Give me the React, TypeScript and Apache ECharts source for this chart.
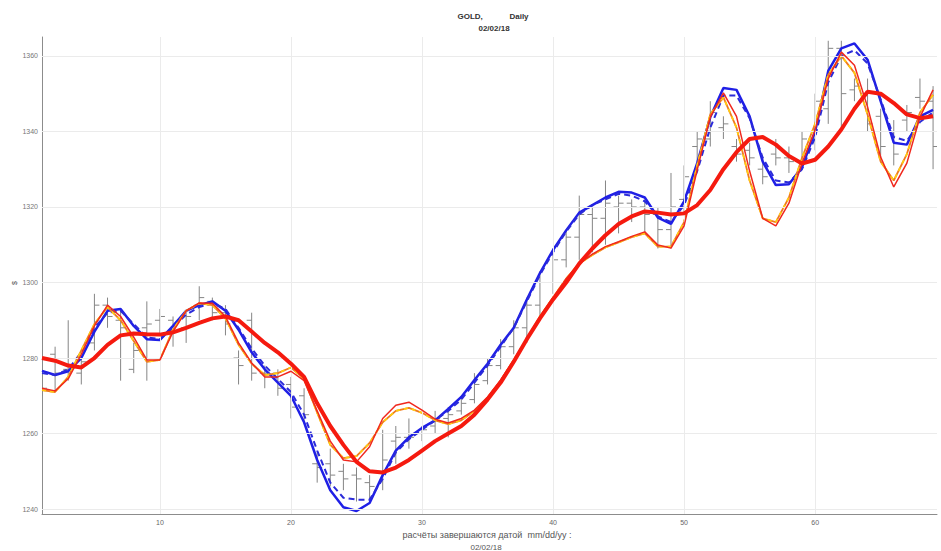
import React, { useEffect, useRef } from "react";
import * as echarts from "echarts";

// ---- data ----
const days: number[] = Array.from({ length: 69 }, (_, i) => i + 1);

// OHLC bars: open, high, low, close
const opens = [1276,1281,1277,1276,1284,1294,1290,1277,1288,1290,1290,1288,1294,1295,1292,1280,1290,1276,1276,1273,1270,1252,1252,1250,1249,1247,1260,1258,1259,1260,1262,1264,1266,1269,1274,1278,1283,1288,1294,1300,1306,1312,1318,1317,1320,1321,1320,1318,1314,1322,1336,1338,1341,1336,1335,1330,1334,1333,1332,1338,1346,1362,1351,1350,1344,1340,1343,1349,1348];
const highs = [1282,1283,1290,1280,1297,1296,1293,1284,1295,1293,1291,1292,1299,1296,1294,1282,1292,1278,1277,1275,1272,1255,1256,1252,1251,1249,1261,1262,1264,1262,1266,1267,1270,1276,1280,1285,1290,1296,1303,1309,1314,1323,1320,1327,1323,1322,1322,1320,1329,1331,1340,1348,1344,1338,1337,1333,1338,1336,1340,1350,1364,1364,1354,1354,1346,1343,1347,1354,1352];
const lows = [1270,1271,1274,1273,1282,1288,1274,1276,1274,1286,1283,1284,1290,1290,1286,1273,1274,1272,1270,1264,1263,1247,1246,1245,1242,1242,1245,1252,1256,1258,1260,1259,1265,1268,1273,1277,1281,1284,1290,1297,1304,1306,1308,1310,1313,1316,1313,1309,1309,1318,1332,1336,1338,1332,1331,1326,1331,1329,1330,1335,1342,1341,1348,1340,1333,1331,1340,1346,1330];
const closes = [1272,1276,1277,1279,1294,1291,1288,1282,1289,1291,1287,1291,1296,1292,1289,1278,1276,1276,1272,1267,1265,1251,1249,1248,1248,1246,1253,1259,1259,1261,1264,1265,1268,1273,1278,1283,1288,1294,1300,1306,1312,1318,1317,1321,1321,1320,1318,1314,1320,1328,1338,1345,1342,1334,1333,1328,1333,1332,1338,1348,1362,1350,1352,1342,1336,1334,1345,1348,1336];

// fast lines
const blueSolid = [1276.6,1275.5,1276.5,1280,1287,1292.5,1293,1288.5,1285,1284.8,1288.5,1292.5,1294,1295,1292.5,1287.5,1281.5,1277,1273.5,1270,1263,1253,1245,1240.5,1239.5,1241.6,1249,1255.5,1259,1261.5,1263.5,1266.5,1269.7,1274.2,1278.5,1283.5,1288,1295.5,1302.5,1308.6,1313.8,1318.5,1320.5,1322.5,1324,1323.8,1322.5,1317.2,1315.5,1321.5,1331.6,1343.8,1351.5,1351,1344,1332,1325.8,1326,1330.5,1340,1356,1362,1363.3,1359,1348,1337,1336.5,1344,1345.7];
const blueDashed = [1276,1275.5,1277,1281.5,1288,1292,1292.5,1289,1285.5,1285,1288,1291.5,1293.5,1294.5,1293,1288,1282.5,1278,1274.5,1271,1265,1255.5,1247,1243,1242.5,1242.5,1248,1255,1258.5,1261,1263.5,1266,1269,1273.5,1278,1283,1288,1295,1302,1308,1313.5,1318,1320.5,1322,1323.5,1323,1321.5,1317.5,1316,1320.5,1329.5,1341,1349.5,1349.5,1343.5,1333,1327,1326.5,1330,1338.5,1353,1360,1361.5,1358,1348.5,1338.5,1337.5,1342.5,1345];
const orangeLine = [1271.5,1271,1275,1282,1289,1293.5,1290,1284.5,1279,1279.5,1287.5,1292.5,1294.5,1294,1290.5,1283.5,1278.5,1275.5,1276,1277.5,1274.5,1265.5,1257,1253.5,1254,1257.5,1263,1266,1266.8,1265.5,1263.5,1262.5,1263.5,1266,1269.5,1274,1279.5,1285,1291,1296,1301,1305,1307.3,1309.3,1310.6,1312,1313,1309.5,1309.5,1316,1331,1344.5,1349,1341,1327,1317,1316,1322.5,1333,1342,1355,1360,1355.5,1344.5,1332,1327,1334,1345,1349.7];
const redThin = [1272,1271.3,1274.5,1281,1288.5,1294,1291,1285.5,1279.5,1279.5,1287,1292.5,1294.6,1294.5,1291,1284,1278.7,1275,1275,1276.5,1274,1266,1258,1253,1252.5,1256.5,1264,1267.5,1268.3,1266.2,1263.8,1262.8,1264,1266.2,1269.7,1274.2,1279.5,1285,1290.9,1296,1301,1305,1307.5,1309.5,1310.8,1312.2,1313.4,1309.9,1309.1,1315,1329.8,1343.8,1350.2,1344,1329.5,1317,1315,1321,1331.6,1340.4,1354,1361,1357.5,1346.5,1333.2,1325.3,1331.6,1343.8,1351];
// slow line
const redThick = [1280,1279.3,1278,1277.5,1280,1283.5,1286,1286.5,1286.3,1286.2,1286.8,1288,1289.3,1290.5,1291,1290,1287,1284,1281.5,1278.5,1275,1268,1262,1257,1252.5,1250,1249.7,1251,1253,1255.5,1258,1260,1262,1265,1269,1273.5,1279,1285,1290.5,1295.5,1300,1305,1309,1312.5,1315.5,1317.5,1318.8,1318.5,1318,1318.3,1320.5,1324.5,1330,1334.5,1338,1338.5,1336.5,1333.5,1331.5,1332.5,1336,1340.5,1346,1350.5,1350,1347.5,1344.5,1343.5,1344];

const xTicks = [10, 20, 30, 40, 50, 60];
const yTicks = [1240, 1260, 1280, 1300, 1320, 1340, 1360];

const titleLine1 = "GOLD,            Daily";
const titleLine2 = "02/02/18";
const xName1 = "расчёты завершаются датой  mm/dd/yy :";
const xName2 = "02/02/18";
const yName = "$";

const pair = (arr: number[]) => arr.map((v, i) => [days[i], v]);

export default function App() {
  const ref = useRef<HTMLDivElement>(null);
  useEffect(() => {
    const chart = echarts.init(ref.current!, null, { renderer: "svg" });
    const font = "Liberation Sans, Arial, sans-serif";
    const ohlc = days.map((d, i) => [d, opens[i], highs[i], lows[i], closes[i]]);
    const lineBase = {
      type: "line",
      showSymbol: false,
      symbol: "none",
      silent: true,
      animation: false,
    };
    chart.setOption({
      animation: false,
      backgroundColor: "#ffffff",
      grid: { left: 42, right: 4, top: 37, bottom: 37, containLabel: false },
      xAxis: {
        type: "value",
        min: 1,
        max: 69.3,
        axisLine: { show: true, onZero: false, lineStyle: { color: "#8c8c8c", width: 1 } },
        axisTick: { show: true, inside: true, length: 5, customValues: xTicks, lineStyle: { color: "#8c8c8c" } },
        axisLabel: { customValues: xTicks, fontSize: 7, color: "#666", fontFamily: font, margin: 5, formatter: (v: number) => String(v) },
        splitLine: { show: false },
      },
      yAxis: {
        type: "value",
        min: 1238.7,
        max: 1365,
        axisLine: { show: true, onZero: false, lineStyle: { color: "#8c8c8c", width: 1 } },
        axisTick: { show: true, inside: true, length: 5, customValues: yTicks, lineStyle: { color: "#8c8c8c" } },
        axisLabel: { customValues: yTicks, fontSize: 7, color: "#777", fontFamily: font, margin: 4, formatter: (v: number) => String(v) },
        splitLine: { show: false },
      },
      graphic: [
        { type: "text", x: 493, y: 12, style: { text: titleLine1, fontSize: 8, fontWeight: "bold", fill: "#333", fontFamily: font, align: "center" } },
        { type: "text", x: 494, y: 24, style: { text: titleLine2, fontSize: 8, fontWeight: "bold", fill: "#333", fontFamily: font, align: "center" } },
        { type: "text", x: 14, y: 283, rotation: Math.PI / 2, style: { text: yName, fontSize: 7, fill: "#555", fontFamily: font, align: "center", verticalAlign: "middle" } },
        { type: "text", x: 487, y: 530, style: { text: xName1, fontSize: 9, fill: "#555", fontFamily: font, align: "center" } },
        { type: "text", x: 486, y: 543, style: { text: xName2, fontSize: 8, fill: "#555", fontFamily: font, align: "center" } },
      ],
      series: [
        {
          type: "line",
          data: [],
          silent: true,
          markLine: {
            silent: true,
            symbol: "none",
            label: { show: false },
            lineStyle: { color: "#ebebeb", type: "solid", width: 1 },
            data: [
              ...xTicks.map((v) => ({ xAxis: v })),
              ...yTicks.map((v) => ({ yAxis: v })),
            ],
          },
        },
        {
          type: "custom",
          silent: true,
          data: ohlc,
          encode: { x: 0, y: [1, 2, 3, 4] },
          clip: true,
          renderItem: (params: any, api: any) => {
            const x = api.value(0);
            const o = api.coord([x, api.value(1)]);
            const h = api.coord([x, api.value(2)]);
            const l = api.coord([x, api.value(3)]);
            const c = api.coord([x, api.value(4)]);
            const st = { stroke: "#858585", lineWidth: 1 };
            return {
              type: "group",
              children: [
                { type: "line", shape: { x1: h[0], y1: h[1], x2: l[0], y2: l[1] }, style: st },
                { type: "line", shape: { x1: o[0] - 5, y1: o[1], x2: o[0], y2: o[1] }, style: st },
                { type: "line", shape: { x1: c[0], y1: c[1], x2: c[0] + 5, y2: c[1] }, style: st },
              ],
            };
          },
        },
        { ...lineBase, name: "blue", data: pair(blueSolid), lineStyle: { color: "#1f1fe6", width: 2.5 }, z: 3 },
        { ...lineBase, name: "blueDash", data: pair(blueDashed), lineStyle: { color: "#2b2bd9", width: 2, type: [6, 4] }, z: 3 },
        { ...lineBase, name: "orange", data: pair(orangeLine), lineStyle: { color: "#f07a1e", width: 1.8 }, z: 4 },
        { ...lineBase, name: "yellowDash", data: pair(orangeLine), lineStyle: { color: "#ffcc10", width: 1.8, type: [4, 4] }, z: 4 },
        { ...lineBase, name: "redThin", data: pair(redThin), lineStyle: { color: "#f0281e", width: 1.5 }, z: 5 },
        { ...lineBase, name: "redThick", data: pair(redThick), lineStyle: { color: "#f51a0f", width: 4 }, z: 6 },
      ],
    });
    return () => chart.dispose();
  }, []);
  return (
    <div
      ref={ref}
      style={{ position: "absolute", left: 0, top: 0, width: 941, height: 551 }}
    />
  );
}
